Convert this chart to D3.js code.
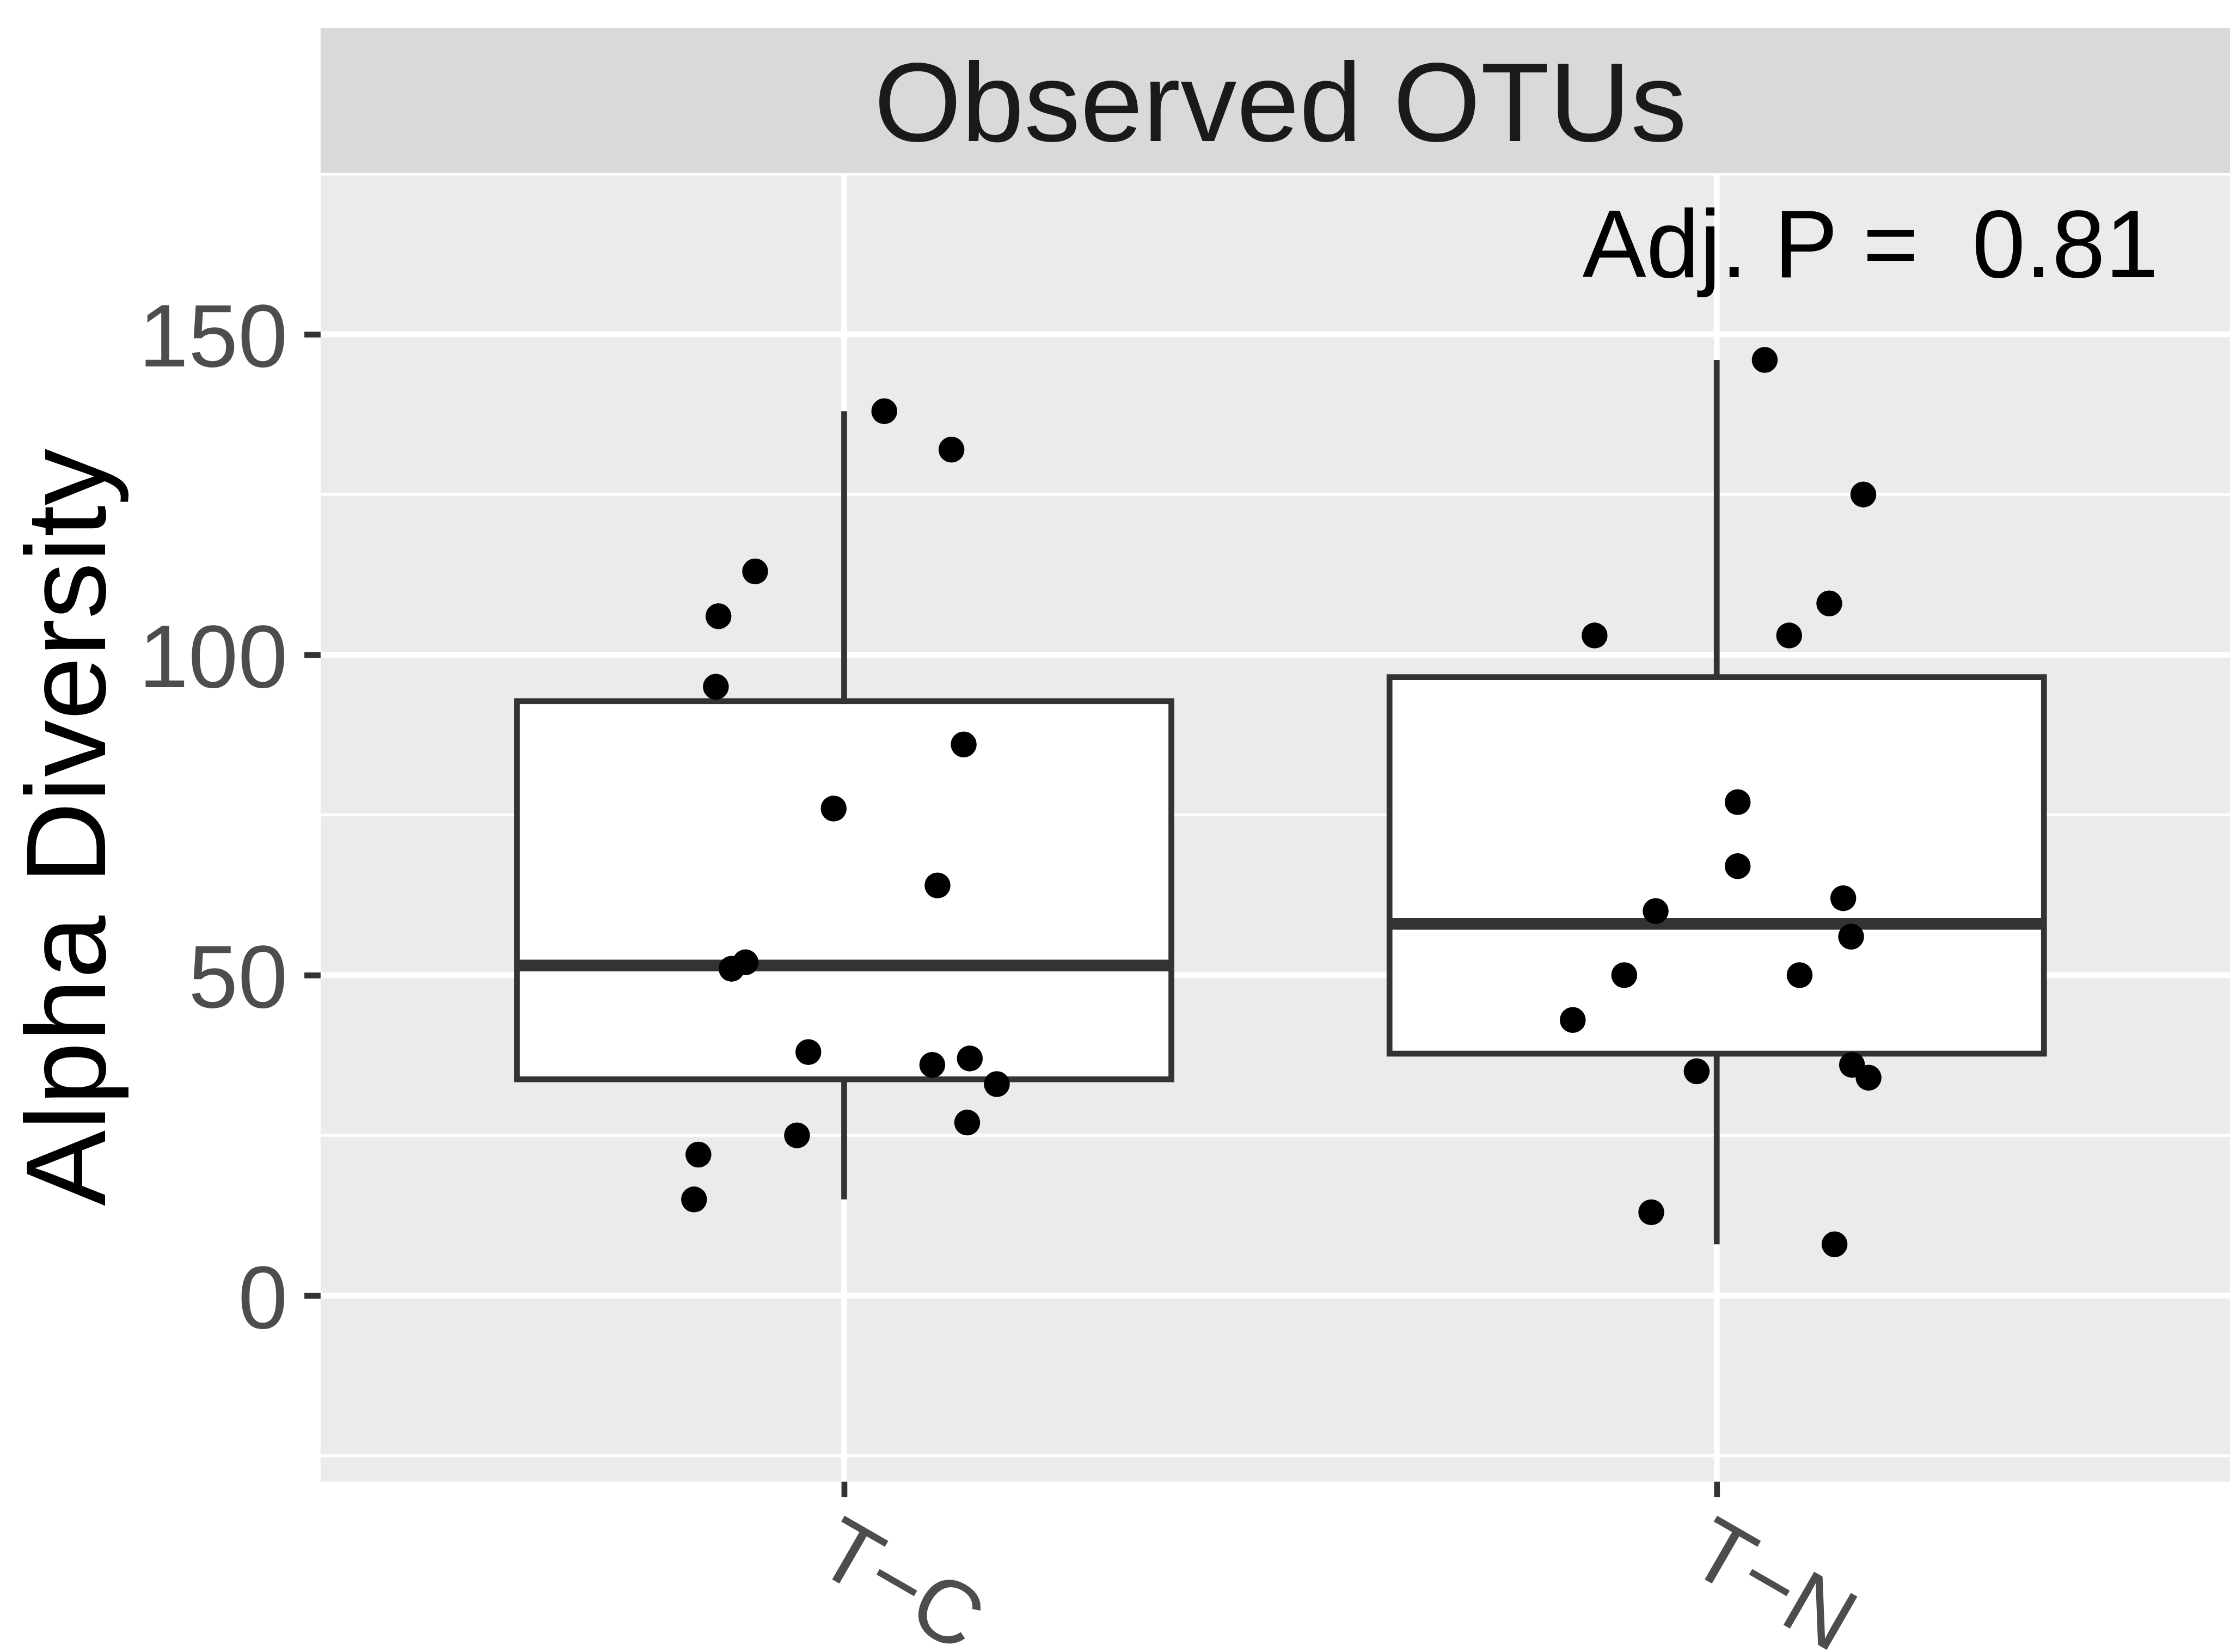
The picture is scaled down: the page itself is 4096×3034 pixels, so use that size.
<!DOCTYPE html>
<html>
<head>
<meta charset="utf-8">
<script src="https://cdn.jsdelivr.net/npm/d3@7"></script>
<style>
  html, body { margin: 0; padding: 0; background: #ffffff; }
  svg { display: block; }
</style>
</head>
<body>
<svg id="chart" width="4096" height="3034"></svg>
<script>
// ---- data -------------------------------------------------------------
const groups = ["T-C", "T-N"];
const groupLabels = ["T\u2212C", "T\u2212N"];

// Observed OTU counts per sample, with the horizontal jitter of each dot
// (fraction of the category step).
const valuesTC = [138, 132, 113, 106, 95, 86, 76, 64, 52, 51, 38, 36, 37, 33, 27, 25, 22, 15];
const jitterTC = [0.046, 0.123, -0.102, -0.144, -0.147, 0.137, -0.012, 0.107, -0.113, -0.129,
                  -0.041, 0.101, 0.144, 0.175, 0.141, -0.054, -0.167, -0.172];
const valuesTN = [146, 125, 108, 103, 103, 77, 67, 62, 60, 56, 50, 50, 43, 35, 36, 34, 13, 8];
const jitterTN = [0.055, 0.168, 0.129, -0.140, 0.083, 0.024, 0.024, 0.145, -0.070, 0.154,
                  -0.106, 0.095, -0.165, -0.023, 0.155, 0.174, -0.075, 0.135];

const yMajorTicks = [0, 50, 100, 150];
const yMinorTicks = [-25, 25, 75, 125, 175];
const yDomain = [-29.05, 175.17];

const stripTitle = "Observed OTUs";
const yTitle = "Alpha Diversity";
const pLabel = "Adj. P =  0.81";
const pLabelAt = [1.846, 158.9];   // x in category units, y in data units

// ---- layout (drawn at full size, then scaled to the window) -----------
const FULL_W = 4399;
const scale = 4096 / FULL_W;
const panel = { left: 632.4, right: 4419.3, top: 341.2, bottom: 2922.6 };
const strip = { top: 55.5, bottom: 341.2 };
const FONT = "'Liberation Sans', Arial, Helvetica, sans-serif";
const LINE = 11.5;

const svg = d3.select("#chart");
svg.append("rect").attr("width", 4096).attr("height", 3034).attr("fill", "#ffffff");
const root = svg.append("g").attr("transform", `scale(${scale})`);

const xCat = d3.scalePoint().domain(groups).range([panel.left, panel.right]).padding(0.6);
const step = xCat.step();
const xLin = d3.scaleLinear().domain([1, 2]).range([xCat(groups[0]), xCat(groups[1])]);
const y = d3.scaleLinear().domain(yDomain).range([panel.bottom, panel.top]);

// panel background
root.append("rect")
  .attr("x", panel.left).attr("y", panel.top)
  .attr("width", panel.right - panel.left).attr("height", panel.bottom - panel.top)
  .attr("fill", "#EBEBEB");

// grid
const grid = root.append("g");
grid.selectAll("line.minor").data(yMinorTicks).join("line")
  .attr("class", "minor")
  .attr("x1", panel.left).attr("x2", panel.right)
  .attr("y1", d => y(d)).attr("y2", d => y(d))
  .attr("stroke", "#ffffff").attr("stroke-width", LINE * 0.5);
grid.selectAll("line.major").data(yMajorTicks).join("line")
  .attr("class", "major")
  .attr("x1", panel.left).attr("x2", panel.right)
  .attr("y1", d => y(d)).attr("y2", d => y(d))
  .attr("stroke", "#ffffff").attr("stroke-width", LINE);
grid.selectAll("line.vmajor").data(groups).join("line")
  .attr("class", "vmajor")
  .attr("x1", d => xCat(d)).attr("x2", d => xCat(d))
  .attr("y1", panel.top).attr("y2", panel.bottom)
  .attr("stroke", "#ffffff").attr("stroke-width", LINE);

// facet strip
root.append("rect")
  .attr("x", panel.left).attr("y", strip.top)
  .attr("width", panel.right - panel.left).attr("height", strip.bottom - strip.top)
  .attr("fill", "#D9D9D9");
const stripFs = 222;
root.append("text")
  .attr("x", (panel.left + panel.right) / 2)
  .attr("y", (strip.top + strip.bottom) / 2 + 0.358 * stripFs)
  .attr("text-anchor", "middle")
  .attr("font-family", FONT).attr("font-size", stripFs)
  .attr("fill", "#1A1A1A")
  .text(stripTitle);

// boxplots
const series = [
  { group: groups[0], values: valuesTC, jitter: jitterTC },
  { group: groups[1], values: valuesTN, jitter: jitterTN }
];
series.forEach(s => {
  const sorted = s.values.slice().sort(d3.ascending);
  const q1 = d3.quantile(sorted, 0.25);
  const med = d3.quantile(sorted, 0.5);
  const q3 = d3.quantile(sorted, 0.75);
  const iqr = q3 - q1;
  const lo = d3.min(sorted.filter(v => v >= q1 - 1.5 * iqr));
  const hi = d3.max(sorted.filter(v => v <= q3 + 1.5 * iqr));
  s.stats = { q1, med, q3, lo, hi };
});

const boxW = 0.75 * step;
const boxes = root.append("g").selectAll("g").data(series).join("g");
boxes.append("line")
  .attr("x1", d => xCat(d.group)).attr("x2", d => xCat(d.group))
  .attr("y1", d => y(d.stats.q3)).attr("y2", d => y(d.stats.hi))
  .attr("stroke", "#333333").attr("stroke-width", LINE);
boxes.append("line")
  .attr("x1", d => xCat(d.group)).attr("x2", d => xCat(d.group))
  .attr("y1", d => y(d.stats.q1)).attr("y2", d => y(d.stats.lo))
  .attr("stroke", "#333333").attr("stroke-width", LINE);
boxes.append("rect")
  .attr("x", d => xCat(d.group) - boxW / 2)
  .attr("y", d => y(d.stats.q3))
  .attr("width", boxW)
  .attr("height", d => y(d.stats.q1) - y(d.stats.q3))
  .attr("fill", "#ffffff").attr("stroke", "#333333").attr("stroke-width", LINE);
boxes.append("line")
  .attr("x1", d => xCat(d.group) - boxW / 2).attr("x2", d => xCat(d.group) + boxW / 2)
  .attr("y1", d => y(d.stats.med)).attr("y2", d => y(d.stats.med))
  .attr("stroke", "#333333").attr("stroke-width", LINE * 2);

// jittered sample points
const pts = series.flatMap(s => s.values.map((v, i) => ({ group: s.group, v, j: s.jitter[i] })));
root.append("g").selectAll("circle").data(pts).join("circle")
  .attr("cx", d => xCat(d.group) + d.j * step)
  .attr("cy", d => y(d.v))
  .attr("r", 25.5)
  .attr("fill", "#000000");

// p-value annotation
root.append("text")
  .attr("x", xLin(pLabelAt[0])).attr("y", y(pLabelAt[1]))
  .attr("font-family", FONT).attr("font-size", 189)
  .attr("fill", "#000000")
  .style("white-space", "pre")
  .attr("xml:space", "preserve")
  .text(pLabel);

// y axis
const axFs = 176;
const yAxis = root.append("g")
  .attr("transform", `translate(${panel.left},0)`)
  .call(d3.axisLeft(y).tickValues(yMajorTicks).tickSize(32).tickPadding(33).tickFormat(d3.format("d")));
yAxis.select(".domain").remove();
yAxis.selectAll(".tick line").attr("stroke", "#333333").attr("stroke-width", LINE);
yAxis.selectAll(".tick text")
  .attr("font-family", FONT).attr("font-size", axFs)
  .attr("fill", "#4D4D4D").attr("dy", "0.358em");

// x axis
const xAxis = root.append("g")
  .attr("transform", `translate(0,${panel.bottom})`)
  .call(d3.axisBottom(xCat).tickSize(30).tickFormat((d, i) => groupLabels[i]));
xAxis.select(".domain").remove();
xAxis.selectAll(".tick line").attr("stroke", "#333333").attr("stroke-width", LINE);
xAxis.selectAll(".tick text")
  .attr("font-family", FONT).attr("font-size", axFs)
  .attr("fill", "#4D4D4D")
  .attr("text-anchor", "start")
  .attr("dy", null)
  .attr("x", -0.023 * axFs)
  .attr("y", 0.716 * axFs)
  .attr("transform", `translate(3,${2985.5 - panel.bottom}) rotate(30)`);

// y axis title
const titleFs = 224;
root.append("text")
  .attr("transform", `translate(207.1,${(panel.top + panel.bottom) / 2}) rotate(-90)`)
  .attr("text-anchor", "middle")
  .attr("font-family", FONT).attr("font-size", titleFs)
  .attr("fill", "#000000")
  .text(yTitle);
</script>
</body>
</html>
